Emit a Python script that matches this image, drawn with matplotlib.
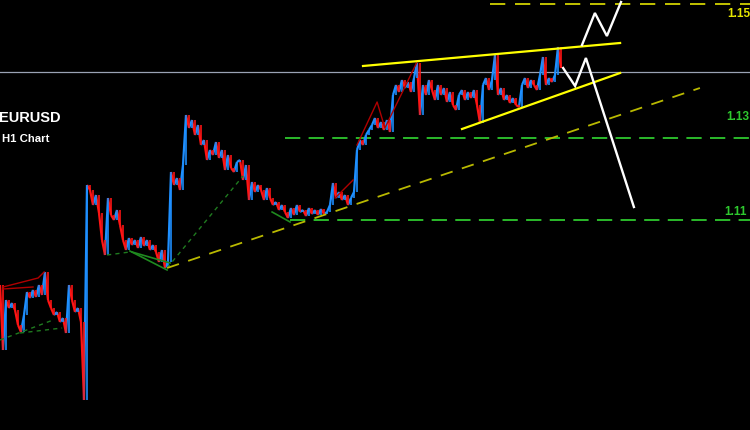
import matplotlib
matplotlib.use("Agg")
import matplotlib.pyplot as plt
from matplotlib.collections import LineCollection

plt.rcParams["lines.scale_dashes"] = False
plt.rcParams["font.family"] = ["Liberation Sans", "DejaVu Sans"]

# EURUSD H1 closes, one value per bar (bar index = position in the list)
closes = [
    1.1010, 1.0880, 1.0980, 1.0964, 1.0974, 1.0960, 1.0930, 1.0916, 1.0950, 1.0996,
    1.0984, 1.1000, 1.0986, 1.1010, 1.0990, 1.1036, 1.0980, 1.0964, 1.0950, 1.0956,
    1.0936, 1.0944, 1.0914, 1.1010, 1.0980, 1.0956, 1.0964, 1.0936, 1.0780, 1.1210,
    1.1200, 1.1170, 1.1190, 1.1154, 1.1100, 1.1070, 1.1184, 1.1150, 1.1140, 1.1160,
    1.1130, 1.1100, 1.1080, 1.1104, 1.1090, 1.1100, 1.1084, 1.1106, 1.1088, 1.1100,
    1.1080, 1.1090, 1.1076, 1.1056, 1.1080, 1.1044, 1.1056, 1.1236, 1.1210, 1.1224,
    1.1200, 1.1250, 1.1350, 1.1324, 1.1340, 1.1310, 1.1330, 1.1290, 1.1300, 1.1260,
    1.1280, 1.1270, 1.1296, 1.1264, 1.1280, 1.1240, 1.1270, 1.1244, 1.1236, 1.1256,
    1.1260, 1.1220, 1.1250, 1.1180, 1.1216, 1.1196, 1.1210, 1.1200, 1.1180, 1.1204,
    1.1184, 1.1170, 1.1176, 1.1160, 1.1170, 1.1156, 1.1144, 1.1164, 1.1150, 1.1170,
    1.1156, 1.1160, 1.1148, 1.1164, 1.1152, 1.1160, 1.1150, 1.1162, 1.1152, 1.1156,
    1.1170, 1.1214, 1.1184, 1.1196, 1.1180, 1.1190, 1.1170, 1.1184, 1.1196, 1.1280,
    1.1300, 1.1290, 1.1310, 1.1320, 1.1330, 1.1344, 1.1324, 1.1336, 1.1320, 1.1340,
    1.1316, 1.1390, 1.1410, 1.1396, 1.1420, 1.1404, 1.1416, 1.1396, 1.1424, 1.1454,
    1.1350, 1.1410, 1.1390, 1.1420, 1.1400, 1.1380, 1.1410, 1.1390, 1.1404, 1.1376,
    1.1396, 1.1370, 1.1360, 1.1390, 1.1400, 1.1380, 1.1396, 1.1384, 1.1400, 1.1370,
    1.1334, 1.1410, 1.1424, 1.1400, 1.1420, 1.1470, 1.1390, 1.1404, 1.1380, 1.1390,
    1.1374, 1.1384, 1.1370, 1.1366, 1.1410, 1.1424, 1.1404, 1.1420, 1.1410, 1.1400,
    1.1430, 1.1466, 1.1410, 1.1424, 1.1416, 1.1430, 1.1486, 1.1444,
]

# horizontal levels
level_ref = 1.1436          # current-price line
level_top = 1.1572          # upper target
level_mid = 1.1304          # support 1
level_low = 1.1140          # support 2

# channel / trend lines as (bar, price) anchors
chan_upper = [(121.0, 1.1448), (206.7, 1.1494)]
chan_lower = [(154.0, 1.1322), (206.7, 1.1434)]
trend_long = [(55.7, 1.1044), (233.3, 1.1404)]

# projected paths
proj_bull = [(194.0, 1.1490), (198.3, 1.1554), (202.3, 1.1508), (207.0, 1.1576)]
proj_bear = [(187.7, 1.1444), (191.7, 1.1408), (195.3, 1.1464), (211.3, 1.1166)]

# zigzag indicator legs
zz_red = [
    [(1.0, 1.1006), (12.7, 1.1024), (14.7, 1.1036)],
    [(1.0, 1.1002), (11.0, 1.1006)],
    [(111.7, 1.1184), (117.7, 1.1220)],
    [(119.0, 1.1290), (125.7, 1.1376), (128.3, 1.1324), (139.0, 1.1456)],
]
zz_green_dashed = [
    [(0.0, 1.0900), (17.7, 1.0940)],
    [(6.7, 1.0914), (20.7, 1.0924)],
    [(35.7, 1.1070), (43.3, 1.1076)],
    [(55.7, 1.1044), (81.0, 1.1228)],
]
zz_green_solid = [
    [(43.3, 1.1078), (55.7, 1.1040)],
    [(44.0, 1.1076), (56.7, 1.1054)],
    [(90.7, 1.1156), (96.7, 1.1136)],
]

UP, DOWN = "#1e8fff", "#ff1414"

fig = plt.figure(figsize=(7.5, 4.3), dpi=100, facecolor="black")
ax = fig.add_axes([0, 0, 1, 1])
ax.set_facecolor("black")
ax.set_xlim(0, 250)
ax.set_ylim(1.0720, 1.1580)
ax.axis("off")

# price bars: a vertical body from previous close to close, plus the leg
# joining consecutive closes, each coloured by direction
bars, legs, cols = [], [], []
for i in range(1, len(closes)):
    o, c = closes[i - 1], closes[i]
    bars.append([(i, o), (i, c)])
    legs.append([(i - 1, o), (i, c)])
    cols.append(UP if c >= o else DOWN)
ax.add_collection(LineCollection(legs, colors=cols, linewidths=1.6,
                                 capstyle="butt", zorder=3))
ax.add_collection(LineCollection(bars, colors=cols, linewidths=1.3,
                                 capstyle="butt", alpha=0.9, zorder=3))

# current price line
ax.axhline(level_ref, color="#9aa2b4", lw=0.9, zorder=2)

# horizontal levels
ax.plot([163.3, 250], [level_top] * 2, color="#d2d200", lw=1.3, dashes=(11, 7), zorder=2)
ax.plot([95.0, 250], [level_mid] * 2, color="#2ec82e", lw=1.3, dashes=(11, 6), zorder=2)
ax.plot([96.7, 250], [level_low] * 2, color="#2ec82e", lw=1.3, dashes=(11, 6), zorder=2)

# zigzag legs
for leg in zz_red:
    xs, ys = zip(*leg)
    ax.plot(xs, ys, color="#b00000", lw=1.0, zorder=4)
for leg in zz_green_dashed:
    xs, ys = zip(*leg)
    ax.plot(xs, ys, color="#1f7a1f", lw=1.0, dashes=(3, 3), zorder=4)
for leg in zz_green_solid:
    xs, ys = zip(*leg)
    ax.plot(xs, ys, color="#1f8a1f", lw=1.2, zorder=4)

# trend lines
xs, ys = zip(*trend_long)
ax.plot(xs, ys, color="#b9b900", lw=1.3, dashes=(9, 7), zorder=5)
for line in (chan_upper, chan_lower):
    xs, ys = zip(*line)
    ax.plot(xs, ys, color="#ffff00", lw=1.6, zorder=5)

# projections
for path in (proj_bull, proj_bear):
    xs, ys = zip(*path)
    ax.plot(xs, ys, color="white", lw=1.7, zorder=6, solid_joinstyle="miter")

# level labels (short form of each level)
def short(v):
    return f"{v:.4f}"[:4]

ax.text(242.3, level_top - 0.0020, short(level_top), color="#e6e600",
        fontsize=8.5, fontweight="bold", va="center", ha="left")
ax.text(242.0, level_mid + 0.0042, short(level_mid), color="#2ec82e",
        fontsize=8.5, fontweight="bold", va="center", ha="left")
ax.text(241.3, level_low + 0.0016, short(level_low), color="#2ec82e",
        fontsize=8.5, fontweight="bold", va="center", ha="left")

# symbol caption
ax.text(-0.002, 1 - 118 / 430, "EURUSD", transform=ax.transAxes, color="white",
        fontsize=10.5, fontweight="bold", va="center", ha="left")
ax.text(0.003, 1 - 139 / 430, "H1 Chart", transform=ax.transAxes, color="white",
        fontsize=8.2, fontweight="bold", va="center", ha="left")

fig.savefig("out.png", dpi=100, facecolor="black")
